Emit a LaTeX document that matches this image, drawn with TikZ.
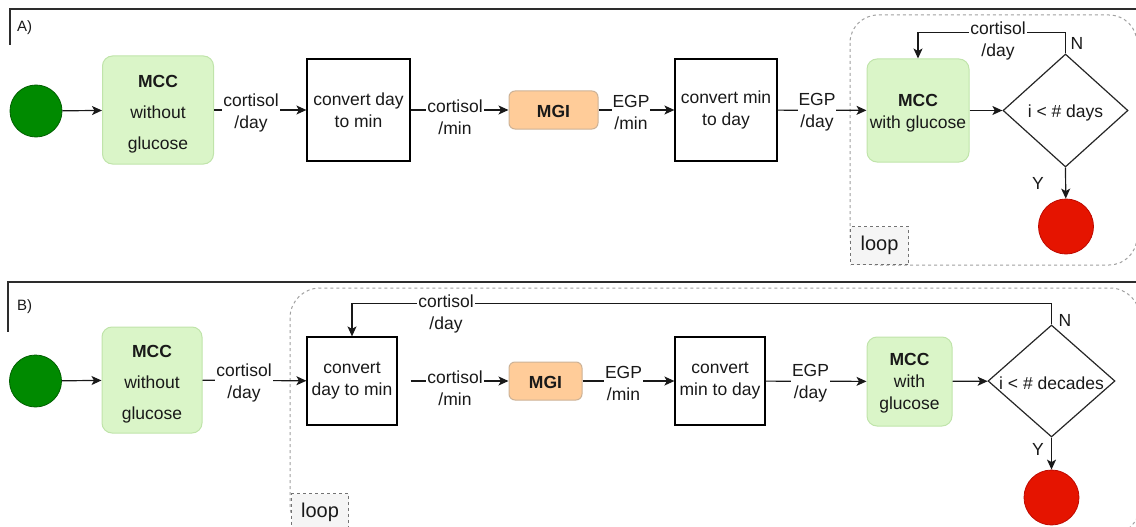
\documentclass[tikz,border=0pt]{standalone}
\usepackage{fontspec}
\setmainfont{Liberation Sans}
\usetikzlibrary{shapes.geometric,arrows.meta}
\definecolor{startg}{RGB}{0,138,0}
\definecolor{startgd}{RGB}{0,95,0}
\definecolor{endr}{RGB}{229,20,0}
\definecolor{endrd}{RGB}{190,10,0}
\definecolor{mccfill}{RGB}{218,245,200}
\definecolor{mccline}{RGB}{192,228,170}
\definecolor{mgifill}{RGB}{255,204,153}
\definecolor{mgiline}{RGB}{205,178,150}
\definecolor{loopline}{RGB}{160,160,160}
\definecolor{loopfill}{RGB}{245,245,245}
\definecolor{framec}{RGB}{45,45,45}
\definecolor{txt}{RGB}{25,25,25}
\tikzset{
  startnode/.style={circle, fill=startg, draw=startgd, line width=0.8pt, minimum size=52pt, inner sep=0pt},
  endnode/.style={circle, fill=endr, draw=endrd, line width=0.8pt, minimum size=55pt, inner sep=0pt},
  mcc/.style={rectangle, rounded corners=10pt, fill=mccfill, draw=mccline, line width=1pt},
  conv/.style={rectangle, draw=black, line width=1.2pt, align=center},
  mgi/.style={rectangle, rounded corners=6pt, fill=mgifill, draw=mgiline, line width=1pt, text height=16pt, font=\bfseries\fontsize{17.5}{22}\selectfont},
  dia/.style={diamond, draw=black!85, line width=1.2pt, inner sep=0pt},
  lbl/.style={fill=white, align=center, inner sep=1pt},
  arr/.style={-{Stealth[length=10pt,width=9pt,inset=2.5pt]}, line width=1.2pt, draw=black!90},
  looprect/.style={draw=loopline, dash pattern=on 3pt off 3pt, line width=1pt},
  looplbl/.style={rectangle, draw=black!55, fill=loopfill, dash pattern=on 3pt off 3pt, line width=1pt, font=\fontsize{20}{24}\selectfont},
  frameline/.style={draw=framec, line width=1.2pt},
  mcctext/.style={align=center, font=\fontsize{17.5}{31}\selectfont},
  mcctextb/.style={align=center},
  smalltext/.style={font=\fontsize{15}{18}\selectfont}
}
\begin{document}
\begin{tikzpicture}[x=1pt,y=-1pt, every node/.style={font=\fontsize{17.5}{22}\selectfont, inner sep=0pt, text=txt}]
\useasboundingbox (0,0) rectangle (1136,527);
\clip (0,0) rectangle (1136,527);

% loop regions
\draw[looprect, rounded corners=28pt] (850,15) rectangle (1137,265);
\draw[looprect, rounded corners=30pt] (290,288) rectangle (1140,535);

% frames
\draw[frameline] (1136,9) -- (10,9) -- (10,45);
\node[smalltext] (labA) at (24.5,28) {A)};
\draw[frameline] (1136,282) -- (8,282) -- (8,332);
\node[smalltext] (labB) at (24.5,307) {B)};

% ---------- Panel A ----------
\node[startnode] (sA) at (36,111) {};
\node[mcc, minimum width=111pt, minimum height=108pt] (mA) at (158,110) {};
\node[mcctext] (mAt) at (158,114) {\textbf{MCC}\\without\\glucose};
\node[conv, minimum width=103pt, minimum height=102pt] (cA1) at (358.5,110) {convert day\\to min};
\node[mgi, minimum width=89pt, minimum height=38pt] (gA) at (553.5,110) {MGI};
\node[conv, minimum width=102pt, minimum height=102pt] (cA2) at (726,110) {convert min\\to day};
\node[mcc, minimum width=102pt, minimum height=103pt] (wA) at (918,110.5) {};
\node[mcctextb] (wAt) at (918,113) {\textbf{MCC}\\with glucose};
\node[dia, minimum width=125pt, minimum height=113pt] (dA) at (1065.5,110.5) {};
\node (dAt) at (1065.5,113) {i < \# days};
\node[endnode] (eA) at (1066,226.5) {};

\draw[arr] (sA) -- (mA);
\draw[arr] (mA) -- (cA1);
\draw[arr] (cA1) -- (gA);
\draw[arr] (gA) -- (cA2);
\draw[arr] (cA2) -- (wA);
\draw[arr] (wA) -- (dA);
\draw[arr] (dA.north) -- ++(0,-20.5) -| (wA.north);
\draw[arr] (dA.south) -- (eA);

\node[lbl] (la1) at (251,112.5) {cortisol\\/day};
\node[lbl] (la2) at (455,117) {cortisol\\/min};
\node[lbl] (la3) at (631,112.5) {EGP\\/min};
\node[lbl] (la4) at (817,112.5) {EGP\\/day};
\node[lbl] (la5) at (998,40.5) {cortisol\\/day};
\node (nA) at (1077,43) {N};
\node (yA) at (1038,183) {Y};
\node[looplbl, minimum width=58pt, minimum height=38pt, anchor=south west] (lpA) at (850,265) {loop};

% ---------- Panel B ----------
\node[startnode] (sB) at (35.5,381) {};
\node[mcc, minimum width=100pt, minimum height=106pt] (mB) at (152,380) {};
\node[mcctext] (mBt) at (152,384.5) {\textbf{MCC}\\without\\glucose};
\node[conv, minimum width=90pt, minimum height=88pt] (cB1) at (352,381) {convert\\day to min};
\node[mgi, minimum width=73pt, minimum height=38pt] (gB) at (545.5,381) {MGI};
\node[conv, minimum width=90pt, minimum height=88pt] (cB2) at (720,381) {convert\\min to day};
\node[mcc, minimum width=85pt, minimum height=89pt] (wB) at (909.5,381.5) {};
\node[mcctextb] (wBt) at (909.5,383) {\textbf{MCC}\\with\\glucose};
\node[dia, minimum width=127pt, minimum height=112pt] (dB) at (1051.5,381) {};
\node (dBt) at (1051.5,383) {i < \# decades};
\node[endnode] (eB) at (1051.5,497.5) {};

\draw[arr] (sB) -- (mB);
\draw[arr] (mB) -- (cB1);
\draw[arr, shorten <=13pt] (cB1) -- (gB);
\draw[arr] (gB) -- (cB2);
\draw[arr] (cB2) -- (wB);
\draw[arr] (wB) -- (dB);
\draw[arr] (dB.north) -- ++(0,-21) -| (cB1.north);
\draw[arr] (dB.south) -- (eB);

\node[lbl] (lb1) at (244,383) {cortisol\\/day};
\node[lbl] (lb2) at (455,388) {cortisol\\/min};
\node[lbl] (lb3) at (623.5,383.5) {EGP\\/min};
\node[lbl] (lb4) at (810.5,383.5) {EGP\\/day};
\node[lbl] (lb5) at (446,314) {cortisol\\/day};
\node (nB) at (1065,320) {N};
\node (yB) at (1038,449) {Y};
\node[looplbl, minimum width=57pt, minimum height=38pt, anchor=north west] (lpB) at (291,493) {loop};
\end{tikzpicture}
\end{document}
